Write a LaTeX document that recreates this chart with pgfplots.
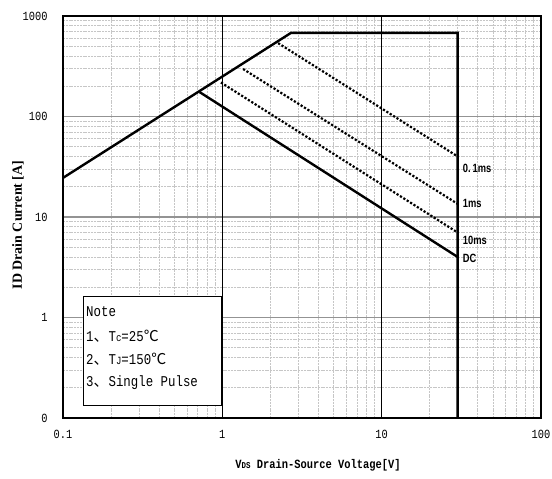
\documentclass[border=0pt]{standalone}
\usepackage{fontspec}
\usepackage{pgfplots}
\pgfplotsset{compat=1.18}
\setmainfont{Liberation Serif}
\newfontfamily\simfont[FakeStretch=0.83]{Liberation Mono}
\newfontfamily\cjk{Noto Sans CJK SC}
\newfontfamily\lblfont[FakeStretch=0.78]{Liberation Sans}
\begin{document}
\begin{tikzpicture}
\useasboundingbox (-63bp,-61bp) rectangle (489bp,418bp);
\begin{axis}[
  at={(0,0)}, anchor=south west,
  scale only axis, width=478bp, height=402bp,
  xmode=log, ymode=log,
  xmin=0.1, xmax=100, ymin=0.1, ymax=1000,
  xtick={0.1,1,10,100}, xticklabels={0.1,1,10,100},
  ytick={0.1,1,10,100,1000}, yticklabels={0,1,10,100,1000},
  minor xtick={0.2,0.3,0.4,0.5,0.6,0.7,0.8,0.9,2,3,4,5,6,7,8,9,20,30,40,50,60,70,80,90},
  minor ytick={0.2,0.3,0.4,0.5,0.6,0.7,0.8,0.9,2,3,4,5,6,7,8,9,20,30,40,50,60,70,80,90,200,300,400,500,600,700,800,900},
  major tick length=0pt, minor tick length=0pt,
  xminorgrids=true, yminorgrids=true, ymajorgrids=true, xmajorgrids=false,
  minor grid style={gray!45, line width=0.7bp, dash pattern=on 2bp off 0.8bp},
  major grid style={gray!85, line width=1.3bp},
  extra x ticks={1,10}, extra x tick labels={},
  extra x tick style={grid=major, major grid style={black, line width=0.7bp}},
  axis line style={black, line width=1.5bp},
  ticklabel style={font=\simfont\fontsize{12.5}{12.5}\selectfont},
  xticklabel style={yshift=-9bp},
  yticklabel style={xshift=-12bp},
]
\addplot[black, line width=2.4bp, line join=miter] coordinates {(0.1,24.5) (2.7,680) (30,680) (30,0.1)};
\addplot[black, line width=2.4bp] coordinates {(0.72,175) (30,4.0)};
\addplot[black, line width=2.2bp, dash pattern=on 2.2bp off 1.8bp] coordinates {(2.24,537) (30,40)};
\addplot[black, line width=2.2bp, dash pattern=on 2.2bp off 1.8bp] coordinates {(1.35,297) (30,13.5)};
\addplot[black, line width=2.2bp, dash pattern=on 2.2bp off 1.8bp] coordinates {(0.98,218) (30,7)};
\node[anchor=west, font=\lblfont\bfseries\fontsize{12}{12}\selectfont, inner sep=0pt, xshift=5bp] at (axis cs:30,30.7) {0.\,1ms};
\node[anchor=west, font=\lblfont\bfseries\fontsize{12}{12}\selectfont, inner sep=0pt, xshift=5bp] at (axis cs:30,13.5) {1ms};
\node[anchor=west, font=\lblfont\bfseries\fontsize{12}{12}\selectfont, inner sep=0pt, xshift=5bp] at (axis cs:30,5.8) {10ms};
\node[anchor=west, font=\lblfont\bfseries\fontsize{12}{12}\selectfont, inner sep=0pt, xshift=5bp] at (axis cs:30,3.9) {DC};
\filldraw[fill=white, draw=black, line width=0.8bp] (rel axis cs:0.0418,0.0323) rectangle (rel axis cs:0.3305,0.3035);
\end{axis}
\begin{scope}[every node/.style={anchor=west, inner sep=0pt, font=\simfont\fontsize{15}{15}\selectfont}]
\node at (23bp,106bp) {Note};
\node at (23bp,82bp) {1{\cjk 、}T{\fontsize{11}{11}\selectfont c}=25{\cjk ℃}};
\node at (23bp,59bp) {2{\cjk 、}T{\fontsize{11}{11}\selectfont J}=150{\cjk ℃}};
\node at (23bp,35bp) {3{\cjk 、}Single Pulse};
\end{scope}
\node[font=\simfont\bfseries\fontsize{12.6}{12.6}\selectfont] at (255bp,-47bp) {V{\fontsize{9}{9}\selectfont DS} Drain-Source Voltage[V]};
\node[rotate=90, font=\bfseries\fontsize{14}{14}\selectfont] at (-45bp,193bp) {ID Drain Current [A]};
\end{tikzpicture}
\end{document}
